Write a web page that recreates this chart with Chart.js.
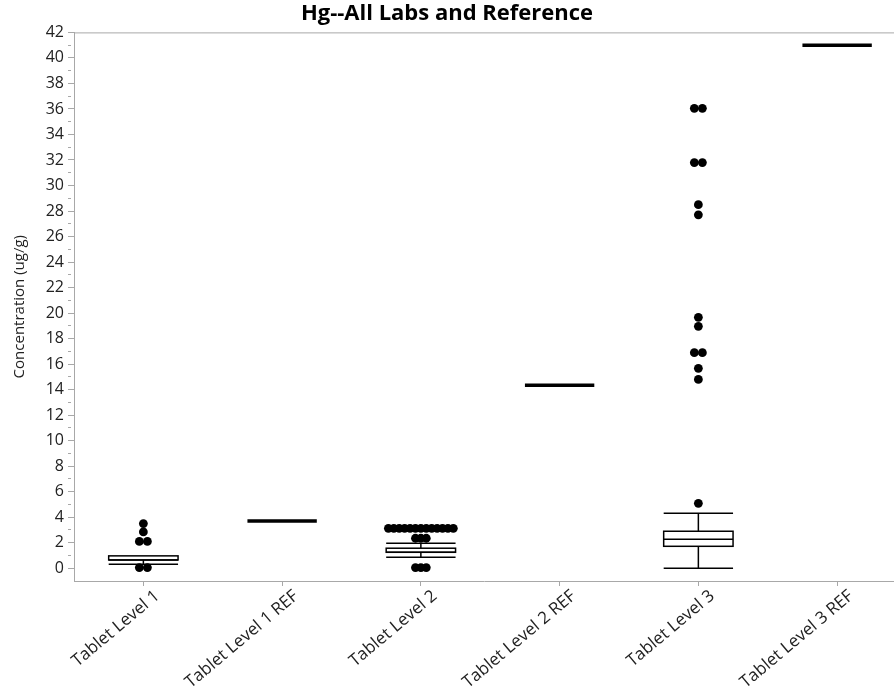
<!DOCTYPE html>
<html>
<head>
<meta charset="utf-8">
<script src="https://cdn.jsdelivr.net/npm/chart.js@4.4.1/dist/chart.umd.min.js"></script>
<style>
  html, body { margin: 0; padding: 0; background: #fff; }
  #wrap { width: 894px; height: 695px; }
</style>
</head>
<body>
<div id="wrap"><canvas id="hgChart" width="894" height="695"></canvas></div>
<script>
// categories along the x axis
const categories = ['Tablet Level 1', 'Tablet Level 1 REF', 'Tablet Level 2',
                    'Tablet Level 2 REF', 'Tablet Level 3', 'Tablet Level 3 REF'];

// box plot summary per category (null = no box)
const whiskerLow  = [0.31, null, 0.86, null, 0.00, null];
const quart1      = [0.65, null, 1.25, null, 1.72, null];
const medians     = [0.65, null, 1.25, null, 2.27, null];
const quart3      = [0.97, null, 1.57, null, 2.90, null];
const whiskerHigh = [0.97, null, 1.96, null, 4.31, null];

// reference values (drawn as a thick bar)
const refValues = [null, 3.70, null, 14.35, null, 41.0];

// outlier points per category
const outliersL1 = [3.5, 2.85, 2.1, 2.1, 0.05, 0.05];
const outliersL2 = [3.13, 3.13, 3.13, 3.13, 3.13, 3.13, 3.13, 3.13, 3.13, 3.13, 3.13, 3.13, 3.13,
                    2.35, 2.35, 2.35, 0.05, 0.05, 0.05];
const outliersL3 = [36.05, 36.05, 31.8, 31.8, 28.5, 27.7, 19.67, 18.96,
                    16.9, 16.9, 15.67, 14.8, 5.09];
const outlierSets = [outliersL1, [], outliersL2, [], outliersL3, []];

// y ticks: major labels every 2, minor every 1
const yTickValues = Array.from({ length: 43 }, (_, i) => i);

const BOX_HALF = 0.25;   // half box width, in category units
const AXIS_GREY = '#a8a8a8';

/* spread identical outliers side by side, like the original plot */
function outlierPoints() {
    const pts = [];
    outlierSets.forEach((vals, i) => {
        const counts = {};
        vals.forEach(v => { counts[v] = (counts[v] || 0) + 1; });
        Object.keys(counts).forEach(k => {
            const n = counts[k];
            const step = n > 2 ? 0.039 : 0.058;
            for (let j = 0; j < n; j++) {
                pts.push({ x: i + (j - (n - 1) / 2) * step, y: Number(k) });
            }
        });
    });
    return pts;
}

function refPoints() {
    const pts = [];
    refValues.forEach((v, i) => {
        if (v === null) return;
        pts.push({ x: i - BOX_HALF, y: v }, { x: i + BOX_HALF, y: v }, { x: i + 0.5, y: null });
    });
    return pts;
}

const boxPlugin = {
    id: 'boxes',
    beforeDatasetsDraw(chart) {
        const { ctx, scales: { x, y }, chartArea } = chart;
        ctx.save();
        // top frame line
        ctx.strokeStyle = AXIS_GREY;
        ctx.lineWidth = 1;
        ctx.beginPath();
        ctx.moveTo(chartArea.left, chartArea.top + 0.5);
        ctx.lineTo(chart.width, chartArea.top + 0.5);
        ctx.stroke();

        ctx.strokeStyle = '#000';
        ctx.lineWidth = 1.5;
        categories.forEach((c, i) => {
            if (quart1[i] === null) return;
            const xc = x.getPixelForValue(i);
            const xl = x.getPixelForValue(i - BOX_HALF);
            const xr = x.getPixelForValue(i + BOX_HALF);
            const yLo = y.getPixelForValue(whiskerLow[i]);
            const yQ1 = y.getPixelForValue(quart1[i]);
            const yMed = y.getPixelForValue(medians[i]);
            const yQ3 = y.getPixelForValue(quart3[i]);
            const yHi = y.getPixelForValue(whiskerHigh[i]);

            ctx.beginPath();
            ctx.moveTo(xc, yLo); ctx.lineTo(xc, yQ1);
            ctx.moveTo(xc, yQ3); ctx.lineTo(xc, yHi);
            if (whiskerLow[i] < quart1[i]) { ctx.moveTo(xl, yLo); ctx.lineTo(xr, yLo); }
            if (whiskerHigh[i] > quart3[i]) { ctx.moveTo(xl, yHi); ctx.lineTo(xr, yHi); }
            ctx.stroke();

            ctx.fillStyle = '#fff';
            ctx.fillRect(xl, yQ3, xr - xl, yQ1 - yQ3);
            ctx.strokeRect(xl, yQ3, xr - xl, yQ1 - yQ3);
            ctx.beginPath();
            ctx.moveTo(xl, yMed); ctx.lineTo(xr, yMed);
            ctx.stroke();
        });
        ctx.restore();
    }
};

const FONT = '"Open Sans", "Noto Sans", sans-serif';

new Chart(document.getElementById('hgChart'), {
    type: 'scatter',
    data: {
        datasets: [
            {
                label: 'Reference',
                type: 'line',
                data: refPoints(),
                borderColor: '#000',
                borderWidth: 3.5,
                borderCapStyle: 'butt',
                pointRadius: 0,
                spanGaps: false
            },
            {
                label: 'Outliers',
                data: outlierPoints(),
                backgroundColor: '#000',
                borderWidth: 0,
                pointRadius: 4.4
            }
        ]
    },
    options: {
        responsive: false,
        animation: false,
        layout: { padding: 0, autoPadding: false },
        plugins: {
            legend: { display: false },
            tooltip: { enabled: false },
            title: {
                display: true,
                text: 'Hg--All Labs and Reference',
                color: '#000',
                font: { family: FONT, size: 22, weight: 'bold' },
                padding: { top: 1, bottom: 5 }
            }
        },
        scales: {
            x: {
                type: 'linear',
                min: -0.5,
                max: 5.41,
                afterBuildTicks(scale) { scale.ticks = categories.map((c, i) => ({ value: i })); },
                afterFit(scale) {
                    scale.height = 114;
                    scale.paddingRight = 0;
                },
                ticks: {
                    autoSkip: false,
                    minRotation: 40,
                    maxRotation: 40,
                    labelOffset: 14,
                    padding: 0,
                    color: '#222',
                    font: { family: FONT, size: 17 },
                    callback: v => categories[v]
                },
                grid: { drawOnChartArea: false, tickLength: 5, color: AXIS_GREY },
                border: { color: AXIS_GREY }
            },
            y: {
                min: -1,
                max: 42,
                afterBuildTicks(scale) { scale.ticks = yTickValues.map(v => ({ value: v })); },
                afterFit(scale) { scale.width = 74; },
                ticks: {
                    autoSkip: false,
                    padding: 4,
                    color: '#222',
                    font: { family: FONT, size: 16 },
                    callback: v => (v % 2 === 0 ? v : '')
                },
                grid: {
                    drawOnChartArea: false,
                    tickLength: 6,
                    color: AXIS_GREY,
                    tickBorderDash: ctx => (ctx.tick && ctx.tick.value % 2 ? [3, 20] : [])
                },
                border: { color: AXIS_GREY },
                title: {
                    display: true,
                    text: 'Concentration (ug/g)',
                    color: '#222',
                    font: { family: FONT, size: 15 },
                    padding: { top: 11, bottom: 0 }
                }
            }
        }
    },
    plugins: [boxPlugin]
});
</script>
</body>
</html>
